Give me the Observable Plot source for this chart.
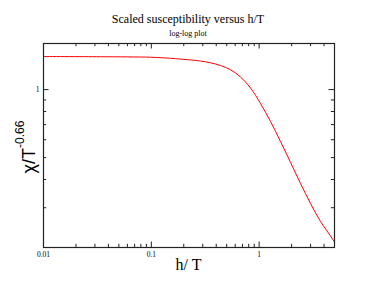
<!DOCTYPE html>
<html>
<head>
<meta charset="utf-8">
<script src="https://cdn.jsdelivr.net/npm/d3@7"></script>
<script src="https://cdn.jsdelivr.net/npm/@observablehq/plot@0.6"></script>
<style>
  html, body { margin: 0; padding: 0; background: #fff; }
  svg { display: block; }
</style>
</head>
<body>
<div id="chart"></div>
<script>
// Data (log-log plot)
const hOverT = [0.01, 0.0338, 0.0983, 0.1507, 0.231, 0.286, 0.3541, 0.4384, 0.5429, 0.6722, 0.8321, 1.03, 1.276, 1.579, 1.956, 2.421, 2.998, 3.712, 4.595, 5.0];
const chiScaled = [1.401, 1.398, 1.391, 1.376, 1.353, 1.338, 1.314, 1.278, 1.224, 1.137, 1.016, 0.868, 0.722, 0.589, 0.476, 0.384, 0.313, 0.2607, 0.2248, 0.2114];

const xMajorTicks = [0.01, 0.1, 1];
const xMinorTicks = [0.02, 0.03, 0.04, 0.05, 0.06, 0.07, 0.08, 0.09, 0.2, 0.3, 0.4, 0.5, 0.6, 0.7, 0.8, 0.9, 2, 3, 4];
const yMajorTicks = [1];
const yMinorTicks = [0.3, 0.4, 0.5, 0.6, 0.7, 0.8, 0.9];

const titleText = "Scaled susceptibility versus h/T";
const subtitleText = "log-log plot";
const xLabelText = "h/ T";

const W = 376, H = 291;
const mL = 43, mR = 42, mT = 43, mB = 44;
const pw = W - mL - mR, ph = H - mT - mB;
const majorLen = 5.5, minorLen = 3.2;

const data = hOverT.map((h, i) => ({h, v: chiScaled[i]}));

const tickColor = "#222";

const chart = Plot.plot({
  width: W, height: H,
  marginLeft: mL, marginRight: mR, marginTop: mT, marginBottom: mB,
  style: {fontFamily: "'Liberation Serif', serif", fontSize: "7.5px", background: "#fff", color: "#000"},
  x: {type: "log", domain: [0.01, 5], axis: null},
  y: {type: "log", domain: [0.2, 1.6], axis: null},
  marks: [
    // bottom inward ticks
    Plot.tickX(xMajorTicks, {x: d => d, insetTop: ph - majorLen, stroke: tickColor}),
    Plot.tickX(xMinorTicks, {x: d => d, insetTop: ph - minorLen, stroke: tickColor}),
    // top inward ticks
    Plot.tickX(xMajorTicks, {x: d => d, insetBottom: ph - majorLen, stroke: tickColor}),
    Plot.tickX(xMinorTicks, {x: d => d, insetBottom: ph - minorLen, stroke: tickColor}),
    // left inward ticks
    Plot.tickY(yMajorTicks, {y: d => d, insetRight: pw - majorLen, stroke: tickColor}),
    Plot.tickY(yMinorTicks, {y: d => d, insetRight: pw - minorLen, stroke: tickColor}),
    // right inward ticks
    Plot.tickY(yMajorTicks, {y: d => d, insetLeft: pw - majorLen, stroke: tickColor}),
    Plot.tickY(yMinorTicks, {y: d => d, insetLeft: pw - minorLen, stroke: tickColor}),
    // curve
    Plot.line(data, {x: "h", y: "v", stroke: "#ff0000", strokeWidth: 1, curve: "catmull-rom"}),
    // frame
    Plot.frame({stroke: "#222", strokeWidth: 1.2}),
    // tick labels
    Plot.axisX(xMajorTicks, {tickSize: 0, tickPadding: 4.5, tickFormat: d => String(d), label: null, fontSize: 7.5}),
    Plot.axisY(yMajorTicks, {tickSize: 0, tickPadding: 4, tickFormat: d => String(d), label: null, fontSize: 7.5})
  ]
});

const svg = d3.select(chart);
svg.append("text")
  .attr("x", W / 2).attr("y", 23)
  .attr("text-anchor", "middle")
  .attr("font-family", "'Liberation Serif', serif")
  .attr("font-size", 12)
  .attr("fill", "#000")
  .text(titleText);
svg.append("text")
  .attr("x", W / 2).attr("y", 35.5)
  .attr("text-anchor", "middle")
  .attr("font-family", "'Liberation Serif', serif")
  .attr("font-size", 8)
  .attr("fill", "#000")
  .text(subtitleText);
svg.append("text")
  .attr("x", mL + pw / 2).attr("y", 270)
  .attr("text-anchor", "middle")
  .attr("font-family", "'Liberation Serif', serif")
  .attr("font-size", 16)
  .attr("fill", "#000")
  .text(xLabelText);
const yl = svg.append("text")
  .attr("transform", "translate(35,147) rotate(-90)")
  .attr("text-anchor", "middle")
  .attr("font-family", "'Liberation Sans', Arial, sans-serif")
  .attr("fill", "#000");
yl.append("tspan").attr("font-size", 18).text("χ/T");
yl.append("tspan").attr("font-size", 12).attr("dy", -11).text("-0.66");

document.getElementById("chart").appendChild(chart);
</script>
</body>
</html>
